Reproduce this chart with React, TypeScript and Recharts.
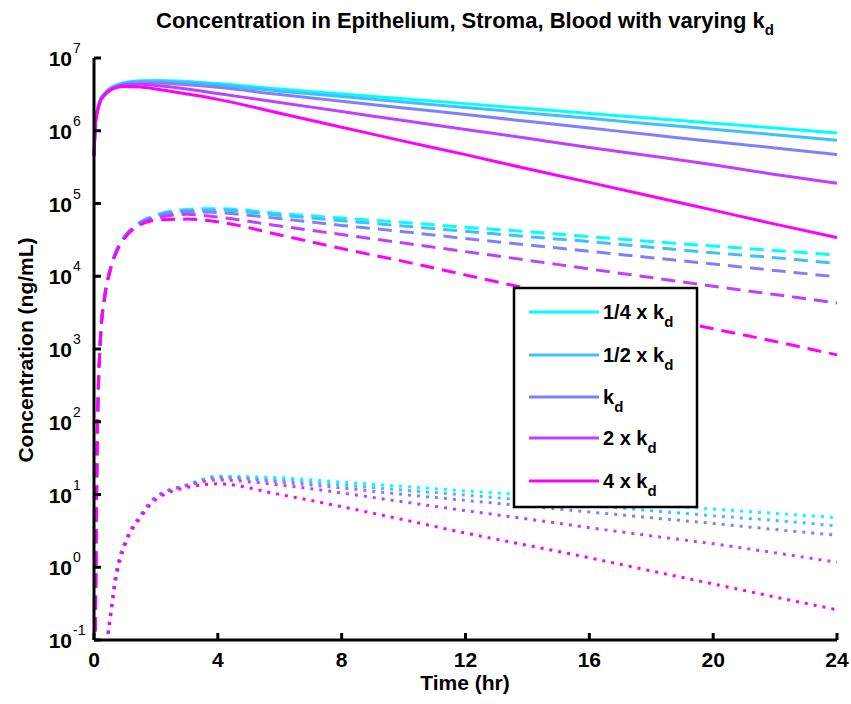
import React from 'react';
import { LineChart, Line, XAxis, YAxis } from 'recharts';

const timeHr = [0, 0.05, 0.1, 0.2, 0.35, 0.5, 0.75, 1, 1.5, 2, 3, 4, 6, 8, 10, 12, 14, 16, 18, 20, 22, 24];

// Epithelium (solid)
const epiQuarter = [4.5e5, 1.4e6, 1.86e6, 2.7e6, 3.3e6, 3.8e6, 4.3e6, 4.6e6, 4.85e6, 4.9e6, 4.75e6, 4.45e6, 3.74e6, 3.2e6, 2.75e6, 2.36e6, 2.02e6, 1.73e6, 1.48e6, 1.27e6, 1.09e6, 9.3e5];
const epiHalf = [4.5e5, 1.38e6, 1.82e6, 2.63e6, 3.25e6, 3.75e6, 4.2e6, 4.5e6, 4.75e6, 4.8e6, 4.6e6, 4.25e6, 3.5e6, 2.95e6, 2.48e6, 2.09e6, 1.76e6, 1.48e6, 1.24e6, 1.05e6, 8.8e5, 7.4e5];
const epiOne = [4.5e5, 1.35e6, 1.82e6, 2.6e6, 3.2e6, 3.7e6, 4.1e6, 4.4e6, 4.55e6, 4.55e6, 4.3e6, 3.95e6, 3.15e6, 2.55e6, 2.06e6, 1.67e6, 1.35e6, 1.09e6, 8.8e5, 7.1e5, 5.8e5, 4.7e5];
const epiTwo = [4.5e5, 1.32e6, 1.78e6, 2.55e6, 3.15e6, 3.6e6, 4.05e6, 4.25e6, 4.35e6, 4.2e6, 3.75e6, 3.25e6, 2.44e6, 1.84e6, 1.38e6, 1.04e6, 7.9e5, 5.9e5, 4.5e5, 3.4e5, 2.5e5, 1.9e5];
const epiFour = [4.5e5, 1.26e6, 1.74e6, 2.5e6, 3.1e6, 3.55e6, 3.95e6, 4.05e6, 4.0e6, 3.75e6, 3.2e6, 2.7e6, 1.74e6, 1.12e6, 7.2e5, 4.7e5, 3.0e5, 1.95e5, 1.26e5, 8.1e4, 5.2e4, 3.4e4];

// Stroma (dashed)
const strQuarter = [1e-3, 0.3, 40, 1.2e3, 5.5e3, 1.15e4, 2.4e4, 3.6e4, 5.6e4, 7.0e4, 8.3e4, 8.5e4, 7.3e4, 6.3e4, 5.5e4, 4.7e4, 4.1e4, 3.5e4, 3.0e4, 2.6e4, 2.26e4, 1.95e4];
const strHalf = [1e-3, 0.3, 40, 1.2e3, 5.5e3, 1.15e4, 2.4e4, 3.55e4, 5.5e4, 6.8e4, 8.0e4, 8.1e4, 6.9e4, 5.8e4, 4.9e4, 4.15e4, 3.5e4, 3.0e4, 2.5e4, 2.1e4, 1.8e4, 1.5e4];
const strOne = [1e-3, 0.3, 40, 1.2e3, 5.4e3, 1.13e4, 2.35e4, 3.5e4, 5.4e4, 6.6e4, 7.7e4, 7.5e4, 6.2e4, 5.0e4, 4.1e4, 3.3e4, 2.7e4, 2.2e4, 1.8e4, 1.47e4, 1.2e4, 9.8e3];
const strTwo = [1e-3, 0.3, 40, 1.2e3, 5.4e3, 1.12e4, 2.3e4, 3.45e4, 5.3e4, 6.3e4, 7.1e4, 6.5e4, 4.9e4, 3.75e4, 2.86e4, 2.18e4, 1.66e4, 1.26e4, 9.6e3, 7.3e3, 5.6e3, 4.3e3];
const strFour = [1e-3, 0.3, 40, 1.2e3, 5.3e3, 1.1e4, 2.25e4, 3.4e4, 5.1e4, 5.9e4, 6.1e4, 5.6e4, 3.7e4, 2.4e4, 1.6e4, 1.04e4, 6.8e3, 4.5e3, 2.9e3, 1.9e3, 1.27e3, 8.3e2];

// Blood (dotted)
const bldQuarter = [1e-4, 1e-3, 3e-3, 0.015, 0.05, 0.18, 1.0, 2.2, 5.2, 9.3, 13.5, 17.8, 17.0, 14.8, 12.9, 11.2, 9.8, 8.3, 7.2, 6.3, 5.5, 4.8];
const bldHalf = [1e-4, 1e-3, 3e-3, 0.015, 0.05, 0.18, 1.0, 2.2, 5.2, 9.3, 13.5, 17.4, 15.8, 13.5, 11.5, 9.8, 8.3, 7.1, 6.0, 5.1, 4.4, 3.7];
const bldOne = [1e-4, 1e-3, 3e-3, 0.015, 0.05, 0.18, 1.0, 2.2, 5.1, 9.2, 13.4, 17.0, 14.8, 12.3, 10.0, 8.3, 6.9, 5.75, 4.8, 4.0, 3.3, 2.75];
const bldTwo = [1e-4, 1e-3, 3e-3, 0.015, 0.05, 0.17, 0.95, 2.1, 5.0, 9.1, 13.2, 15.8, 13.5, 10.5, 7.9, 6.0, 4.6, 3.5, 2.7, 2.1, 1.58, 1.17];
const bldFour = [1e-4, 1e-3, 3e-3, 0.015, 0.05, 0.16, 0.85, 2.0, 4.8, 8.5, 12.5, 14.0, 10.0, 6.8, 4.5, 2.95, 2.0, 1.35, 0.89, 0.59, 0.39, 0.26];

const seriesLabels = ['1/4 x k', '1/2 x k', 'k', '2 x k', '4 x k'];
const seriesColors = ['#00FFFF', '#40BFFF', '#8080FF', '#BF40FF', '#FF00FF'];
const xTicks = [0, 4, 8, 12, 16, 20, 24];
const yTicks = [0.1, 1, 10, 100, 1e3, 1e4, 1e5, 1e6, 1e7];

const epithelium = [epiQuarter, epiHalf, epiOne, epiTwo, epiFour];
const stroma = [strQuarter, strHalf, strOne, strTwo, strFour];
const blood = [bldQuarter, bldHalf, bldOne, bldTwo, bldFour];

const data = timeHr.map((t, i) => {
  const row: Record<string, number> = { t };
  for (let k = 0; k < 5; k++) {
    row['e' + k] = epithelium[k][i];
    row['s' + k] = stroma[k][i];
    row['b' + k] = blood[k][i];
  }
  return row;
});

const FONT = '"Liberation Sans", Arial, Helvetica, sans-serif';

const YTick = (props: any) => {
  const { x, y, payload } = props;
  const exp = Math.round(Math.log10(payload.value));
  return (
    <g>
      <text x={x} y={y + 8} textAnchor="end" fontSize={21} fontWeight="bold" fontFamily={FONT} fill="#000">10</text>
      <text x={x + 1} y={y - 5} textAnchor="start" fontSize={14} fontFamily={FONT} fill="#000">{exp}</text>
    </g>
  );
};

const XTick = (props: any) => {
  const { x, y, payload } = props;
  return (
    <text x={x} y={y} textAnchor="middle" fontSize={21} fontWeight="bold" fontFamily={FONT} fill="#000">{payload.value}</text>
  );
};

export default function App() {
  const legendTop = 288;
  const rowYs = [312, 355, 397, 438, 481];
  return (
    <div style={{ position: 'absolute', left: 0, top: 0, width: 851, height: 704, background: '#fff' }}>
      <LineChart width={851} height={704} data={data} margin={{ top: 58, right: 14, bottom: 0, left: 14 }}>
        <XAxis
          dataKey="t"
          type="number"
          domain={[0, 24]}
          ticks={xTicks}
          height={64}
          tick={<XTick />}
          tickSize={-7}
          tickMargin={34}
          axisLine={{ stroke: '#000', strokeWidth: 3 }}
          tickLine={{ stroke: '#000', strokeWidth: 3 }}
          interval={0}
        />
        <YAxis
          type="number"
          scale="log"
          domain={[0.1, 1e7]}
          allowDataOverflow
          ticks={yTicks}
          width={80}
          tick={<YTick />}
          tickSize={-7}
          tickMargin={29}
          axisLine={{ stroke: '#000', strokeWidth: 3 }}
          tickLine={{ stroke: '#000', strokeWidth: 3 }}
          interval={0}
        />
        {seriesColors.map((c, k) => (
          <Line key={'e' + k} dataKey={'e' + k} type="monotone" stroke={c} strokeWidth={3} dot={false} isAnimationActive={false} />
        ))}
        {seriesColors.map((c, k) => (
          <Line key={'s' + k} dataKey={'s' + k} type="monotone" stroke={c} strokeWidth={3} strokeDasharray="14 8" dot={false} isAnimationActive={false} />
        ))}
        {seriesColors.map((c, k) => (
          <Line key={'b' + k} dataKey={'b' + k} type="monotone" stroke={c} strokeWidth={3} strokeDasharray="3 6" dot={false} isAnimationActive={false} />
        ))}
      </LineChart>
      <svg width={851} height={704} style={{ position: 'absolute', left: 0, top: 0, pointerEvents: 'none' }}>
        <text x={465} y={28} textAnchor="middle" fontSize={22} fontWeight="bold" fontFamily={FONT} fill="#000">
          Concentration in Epithelium, Stroma, Blood with varying k<tspan fontSize={15} dy={7}>d</tspan>
        </text>
        <text x={465} y={690} textAnchor="middle" fontSize={21} fontWeight="bold" fontFamily={FONT} fill="#000">Time (hr)</text>
        <text transform="translate(33,350) rotate(-90)" textAnchor="middle" fontSize={21} fontWeight="bold" fontFamily={FONT} fill="#000">Concentration (ng/mL)</text>
        <rect x={514} y={legendTop} width={183} height={219} fill="#fff" stroke="#000" strokeWidth={2.5} />
        {seriesLabels.map((lab, k) => (
          <g key={lab}>
            <line x1={529} x2={599} y1={rowYs[k]} y2={rowYs[k]} stroke={seriesColors[k]} strokeWidth={3} />
            <text x={603} y={rowYs[k] + 7} fontSize={20} fontWeight="bold" fontFamily={FONT} fill="#000">
              {lab}<tspan fontSize={15} dy={8}>d</tspan>
            </text>
          </g>
        ))}
      </svg>
    </div>
  );
}
